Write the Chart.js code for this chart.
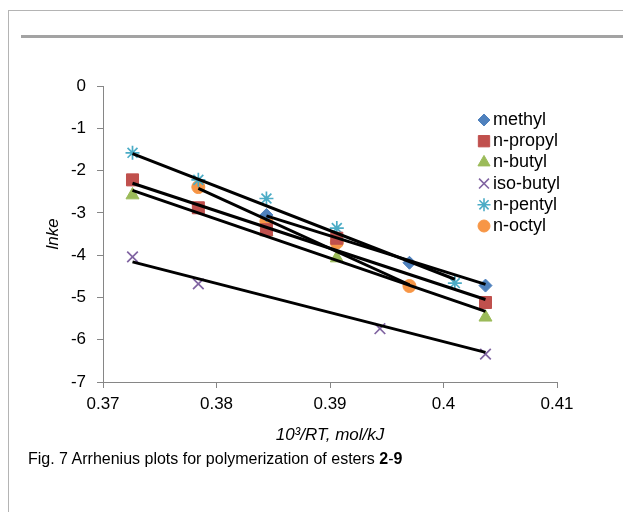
<!DOCTYPE html>
<html>
<head>
<meta charset="utf-8">
<script src="https://cdn.jsdelivr.net/npm/chart.js"></script>
<style>
  body { margin: 0; background: #fff; }
  #page { position: relative; width: 623px; height: 512px; overflow: hidden; }
  #frame { position: absolute; left: 8px; top: 10px; width: 640px; height: 520px;
           border-top: 1px solid #b4b4b4; border-left: 1px solid #b4b4b4; }
  #rule { position: absolute; left: 21px; top: 35px; width: 602px; height: 3px; background: #a3a3a3; }
  #chart { position: absolute; left: 0; top: 0; }
  #caption { position: absolute; left: 28px; top: 450px; font: 16px "Liberation Sans", Arial, sans-serif; color: #000; }
</style>
</head>
<body>
<div id="page">
  <div id="frame"></div>
  <div id="rule"></div>
  <canvas id="chart" width="623" height="512"></canvas>
  <div id="caption">Fig. 7 Arrhenius plots for polymerization of esters <b>2</b>-<b>9</b></div>
</div>
<script>
// 凡例ラベル
var labels = ["methyl", "n-propyl", "n-butyl", "iso-butyl", "n-pentyl", "n-octyl"];

// 測定点 (10^3/RT, lnke)
var methylX = [0.3844, 0.3970, 0.4037];
var methylY = [-3.05, -4.18, -4.72];
var propylX = [0.3726, 0.3784, 0.3844, 0.3906, 0.4037];
var propylY = [-2.22, -2.88, -3.40, -3.60, -5.12];
var butylX = [0.3726, 0.3844, 0.3906, 0.4037];
var butylY = [-2.58, -3.45, -4.07, -5.47];
var isobutylX = [0.3726, 0.3784, 0.3944, 0.4037];
var isobutylY = [-4.04, -4.68, -5.74, -6.34];
var pentylX = [0.3726, 0.3784, 0.3844, 0.3906, 0.4010];
var pentylY = [-1.58, -2.22, -2.66, -3.36, -4.66];
var octylX = [0.3784, 0.3844, 0.3906, 0.3970];
var octylY = [-2.39, -3.20, -3.70, -4.73];

// 近似直線の両端
var methylTrendY = [-3.07, -4.69];
var propylTrendY = [-2.30, -5.05];
var butylTrendY = [-2.47, -5.33];
var isobutylTrendY = [-4.16, -6.30];
var pentylTrendY = [-1.60, -4.57];
var octylTrendY = [-2.42, -4.70];

// 目盛
var xTicks = [0.37, 0.38, 0.39, 0.4, 0.41];
var yTicks = [0, -1, -2, -3, -4, -5, -6, -7];

var colors = ["#4F81BD", "#C0504D", "#9BBB59", "#8064A2", "#4BACC6", "#F79646"];
var styles = ["rectRot", "rect", "triangle", "crossRot", "star", "circle"];
var radii = [6.5, 8.5, 7.5, 7.5, 7, 6.5];

var xs = [methylX, propylX, butylX, isobutylX, pentylX, octylX];
var ys = [methylY, propylY, butylY, isobutylY, pentylY, octylY];
var trends = [methylTrendY, propylTrendY, butylTrendY, isobutylTrendY, pentylTrendY, octylTrendY];

function pts(x, y) {
    return x.map(function (v, i) { return { x: v, y: y[i] }; });
}

var datasets = [];
labels.forEach(function (name, i) {
    var strokeOnly = styles[i] === "crossRot" || styles[i] === "star";
    datasets.push({
        label: name,
        data: pts(xs[i], ys[i]),
        showLine: false,
        pointStyle: styles[i],
        pointRadius: radii[i],
        backgroundColor: colors[i],
        borderColor: colors[i],
        pointBorderWidth: strokeOnly ? 1.7 : 1,
        order: 1
    });
});
labels.forEach(function (name, i) {
    var x = xs[i];
    datasets.push({
        label: name + " trend",
        data: pts([x[0], x[x.length - 1]], trends[i]),
        showLine: true,
        borderColor: "#000",
        borderWidth: 3,
        pointRadius: 0,
        order: 0
    });
});

// グラフ内の凡例
var insideLegend = {
    id: "insideLegend",
    afterDraw: function (chart) {
        var ctx = chart.ctx;
        ctx.save();
        labels.forEach(function (name, i) {
            var y = 120 + i * 21.2;
            ctx.fillStyle = colors[i];
            ctx.strokeStyle = colors[i];
            var strokeOnly = styles[i] === "crossRot" || styles[i] === "star";
            ctx.lineWidth = strokeOnly ? 1.6 : 1;
            if (Chart.helpers && Chart.helpers.drawPoint) {
                Chart.helpers.drawPoint(ctx, { pointStyle: styles[i], radius: radii[i] - 0.5, rotation: 0, borderWidth: ctx.lineWidth }, 484, y);
            } else {
                ctx.beginPath(); ctx.arc(484, y, 5, 0, Math.PI * 2); ctx.fill();
            }
            ctx.fillStyle = "#000";
            ctx.font = '18px "Liberation Sans", Arial, sans-serif';
            ctx.textBaseline = "middle";
            ctx.fillText(name, 493, y);
        });
        ctx.restore();
    }
};

var axisColor = "#868686";
var chart = new Chart(document.getElementById("chart"), {
    type: "scatter",
    data: { datasets: datasets },
    plugins: [insideLegend],
    options: {
        responsive: false,
        animation: false,
        devicePixelRatio: 1,
        layout: { padding: { left: 40, top: 86, right: 66, bottom: 67 } },
        plugins: { legend: { display: false }, tooltip: { enabled: false } },
        scales: {
            x: {
                type: "linear",
                min: 0.37,
                max: 0.41,
                afterBuildTicks: function (scale) {
                    scale.ticks = xTicks.map(function (v) { return { value: v }; });
                },
                afterFit: function (scale) { scale.height = 63; },
                border: { color: axisColor, width: 1 },
                grid: { drawOnChartArea: false, color: axisColor, tickLength: 6 },
                ticks: {
                    color: "#000",
                    padding: 6,
                    maxRotation: 0,
                    font: { family: "Liberation Sans", size: 17 },
                    callback: function (v) { return String(parseFloat(v.toFixed(2))); }
                },
                title: {
                    display: true,
                    text: "10³/RT, mol/kJ",
                    color: "#000",
                    padding: { top: 4, bottom: 0 },
                    font: { family: "Liberation Sans", size: 17, style: "italic" }
                }
            },
            y: {
                min: -7,
                max: 0,
                afterBuildTicks: function (scale) {
                    scale.ticks = yTicks.map(function (v) { return { value: v }; });
                },
                afterFit: function (scale) { scale.width = 63; },
                border: { color: axisColor, width: 1 },
                grid: { drawOnChartArea: false, color: axisColor, tickLength: 6 },
                ticks: {
                    color: "#000",
                    padding: 11,
                    font: { family: "Liberation Sans", size: 17 },
                    callback: function (v) { return String(v); }
                },
                title: {
                    display: true,
                    text: "lnke",
                    color: "#000",
                    padding: { top: 3, bottom: 0 },
                    font: { family: "Liberation Sans", size: 17, style: "italic" }
                }
            }
        }
    }
});
</script>
</body>
</html>
